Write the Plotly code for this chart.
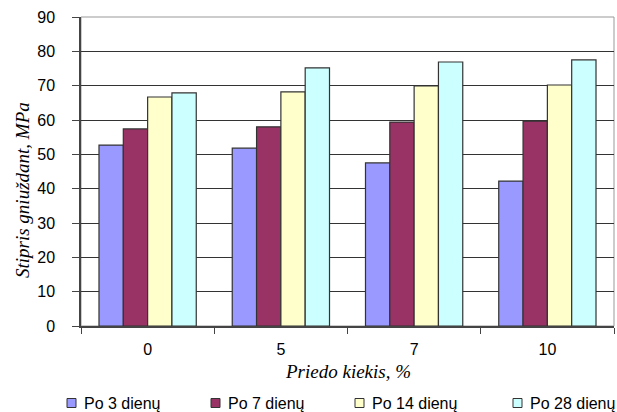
import plotly.graph_objects as go

categories = ["0", "5", "7", "10"]
series_names = ["Po 3 dienų", "Po 7 dienų", "Po 14 dienų", "Po 28 dienų"]
po3 = [52.7, 51.8, 47.5, 42.2]
po7 = [57.4, 58.0, 59.4, 59.7]
po14 = [66.7, 68.2, 69.9, 70.2]
po28 = [67.9, 75.2, 76.9, 77.5]
colors = ["#9999ff", "#993366", "#ffffcc", "#ccffff"]

W, H = 617, 412
ML, MR, MT, MB = 81, 3, 17, 86
plot_w, plot_h = W - ML - MR, H - MT - MB


def px_x(px):
    return (px - ML) / plot_w


def px_y(py):
    return (H - MB - py) / plot_h


fig = go.Figure()
for name, vals, col in zip(series_names, [po3, po7, po14, po28], colors):
    fig.add_trace(go.Bar(
        x=categories, y=vals, name=name, showlegend=False,
        marker=dict(color=col, line=dict(color="#333333", width=1.2)),
    ))

title_font = dict(family="Liberation Serif, Times New Roman", size=19, color="black")
label_font = dict(family="Liberation Sans, Arial", size=16, color="black")

annotations = [
    dict(text="<i>Priedo kiekis, %</i>", xref="paper", yref="paper",
         x=0.5, y=px_y(371), xanchor="center", yanchor="middle",
         showarrow=False, font=title_font),
    dict(text="<i>Stipris gniuždant, MPa</i>", xref="paper", yref="paper",
         x=px_x(22), y=px_y(190), xanchor="center", yanchor="middle",
         textangle=-90, showarrow=False, font=title_font),
]
shapes = [
    # light frame on top and right of the plot area
    dict(type="rect", xref="paper", yref="paper", x0=0, y0=0, x1=1, y1=1,
         line=dict(color="#999999", width=1), layer="below"),
]

# legend row along the bottom: small outlined swatch followed by the series name
legend_text_x = [82, 226, 370, 528]
legend_y = 403
for name, col, tx in zip(series_names, colors, legend_text_x):
    shapes.append(dict(type="rect", xref="paper", yref="paper",
                       x0=px_x(tx - 15), x1=px_x(tx - 6),
                       y0=px_y(legend_y - 4.5), y1=px_y(legend_y + 4.5),
                       fillcolor=col, line=dict(color="#333333", width=1)))
    annotations.append(dict(text=name, xref="paper", yref="paper",
                            x=px_x(tx), y=px_y(legend_y),
                            xanchor="left", yanchor="middle",
                            showarrow=False, font=label_font))

fig.update_layout(
    width=W, height=H,
    margin=dict(l=ML, r=MR, t=MT, b=MB, autoexpand=False),
    paper_bgcolor="white", plot_bgcolor="white",
    barmode="group", bargap=0.27, bargroupgap=0,
    font=label_font,
    showlegend=False,
    xaxis=dict(
        type="category", tickson="boundaries", ticks="outside", ticklen=6,
        tickcolor="#444444", linecolor="#444444", linewidth=1.5, showline=True,
        mirror=False, showgrid=False, automargin=False, ticklabelstandoff=8,
    ),
    yaxis=dict(
        range=[0, 90], dtick=10, ticks="outside", ticklen=7, tickcolor="#444444",
        showline=True, linecolor="#444444", linewidth=1.5,
        showgrid=True, gridcolor="#333333", gridwidth=1.3,
        zeroline=False, automargin=False, ticklabelstandoff=14,
    ),
    annotations=annotations,
    shapes=shapes,
)

fig.write_html("out.html")
